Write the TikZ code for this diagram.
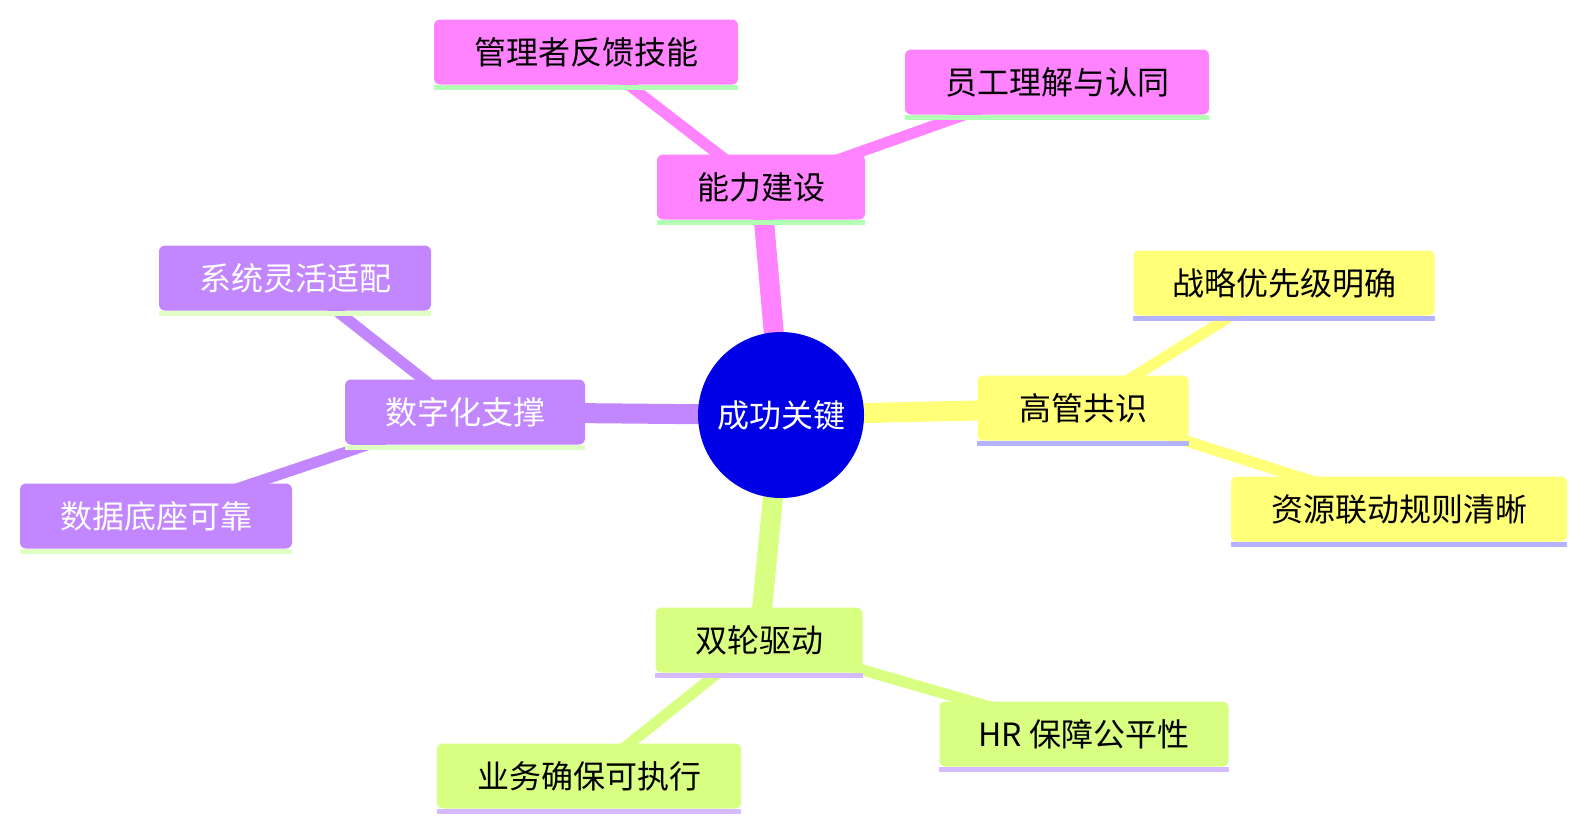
\documentclass[tikz,border=0pt]{standalone}
\usepackage{fontspec}
\setmainfont{Noto Sans CJK SC}
\usetikzlibrary{backgrounds}
\definecolor{pinkF}{HTML}{FF82FF}
\definecolor{yelF}{HTML}{FFFF78}
\definecolor{grnF}{HTML}{D9FF82}
\definecolor{purF}{HTML}{C287FF}
\definecolor{ctrF}{HTML}{0000E6}
\definecolor{pinkB}{HTML}{B3FFB5}
\definecolor{yelB}{HTML}{B3B3FF}
\definecolor{grnB}{HTML}{D6BAFF}
\definecolor{purB}{HTML}{E0FFC4}
\tikzset{
  mmbox/.style={rectangle, rounded corners=6pt, inner sep=0pt, minimum height=65pt,
     font=\fontsize{32}{38}\selectfont},
  lvlone/.style={draw=#1, line width=20pt},
  lvltwo/.style={draw=#1, line width=11pt},
}
\newcommand{\mmunder}[2]{\fill[#2] (#1.south west) rectangle ([yshift=-5pt]#1.south east);}
\begin{document}
\begin{tikzpicture}[x=1pt,y=-1pt]
\useasboundingbox (0,0) rectangle (1586,831);
% center
\node[circle, fill=ctrF, text=white, minimum size=166pt, inner sep=0pt,
      font=\fontsize{32}{38}\selectfont] (c) at (781,415) {成功关键};
% level 1
\node[mmbox, fill=pinkF, minimum width=208pt] (a) at (761,187) {能力建设};
\node[mmbox, fill=yelF, minimum width=211pt] (b) at (1083,408) {高管共识};
\node[mmbox, fill=grnF, minimum width=207pt] (d) at (759,640) {双轮驱动};
\node[mmbox, fill=purF, text=white, minimum width=240pt] (e) at (465,412) {数字化支撑};
% level 2
\node[mmbox, fill=pinkF, minimum width=304pt] (a1) at (586,52) {管理者反馈技能};
\node[mmbox, fill=pinkF, minimum width=304pt] (a2) at (1057,82) {员工理解与认同};
\node[mmbox, fill=yelF, minimum width=301pt] (b1) at (1284,283) {战略优先级明确};
\node[mmbox, fill=yelF, minimum width=336pt] (b2) at (1399,509) {资源联动规则清晰};
\node[mmbox, fill=grnF, minimum width=289pt] (d1) at (1084,734) {HR 保障公平性};
\node[mmbox, fill=grnF, minimum width=304pt] (d2) at (589,776) {业务确保可执行};
\node[mmbox, fill=purF, text=white, minimum width=272pt] (e1) at (295,278) {系统灵活适配};
\node[mmbox, fill=purF, text=white, minimum width=272pt] (e2) at (156,516) {数据底座可靠};
% under bars
\mmunder{a}{pinkB}
\mmunder{a1}{pinkB}
\mmunder{a2}{pinkB}
\mmunder{b}{yelB}
\mmunder{b1}{yelB}
\mmunder{b2}{yelB}
\mmunder{d}{grnB}
\mmunder{d1}{grnB}
\mmunder{d2}{grnB}
\mmunder{e}{purB}
\mmunder{e1}{purB}
\mmunder{e2}{purB}
% edges
\begin{scope}[on background layer]
\fill[white] (0,0) rectangle (1586,831);
\draw[lvlone=pinkF] (c.center) -- (a.center);
\draw[lvlone=yelF] (c.center) -- (b.center);
\draw[lvlone=grnF] (c.center) -- (d.center);
\draw[lvlone=purF] (c.center) -- (e.center);
\draw[lvltwo=pinkF] (a.center) -- (a1.center);
\draw[lvltwo=pinkF] (a.center) -- (a2.center);
\draw[lvltwo=yelF] (b.center) -- (b1.center);
\draw[lvltwo=yelF] (b.center) -- (b2.center);
\draw[lvltwo=grnF] (d.center) -- (d1.center);
\draw[lvltwo=grnF] (d.center) -- (d2.center);
\draw[lvltwo=purF] (e.center) -- (e1.center);
\draw[lvltwo=purF] (e.center) -- (e2.center);
\end{scope}
\end{tikzpicture}
\end{document}
